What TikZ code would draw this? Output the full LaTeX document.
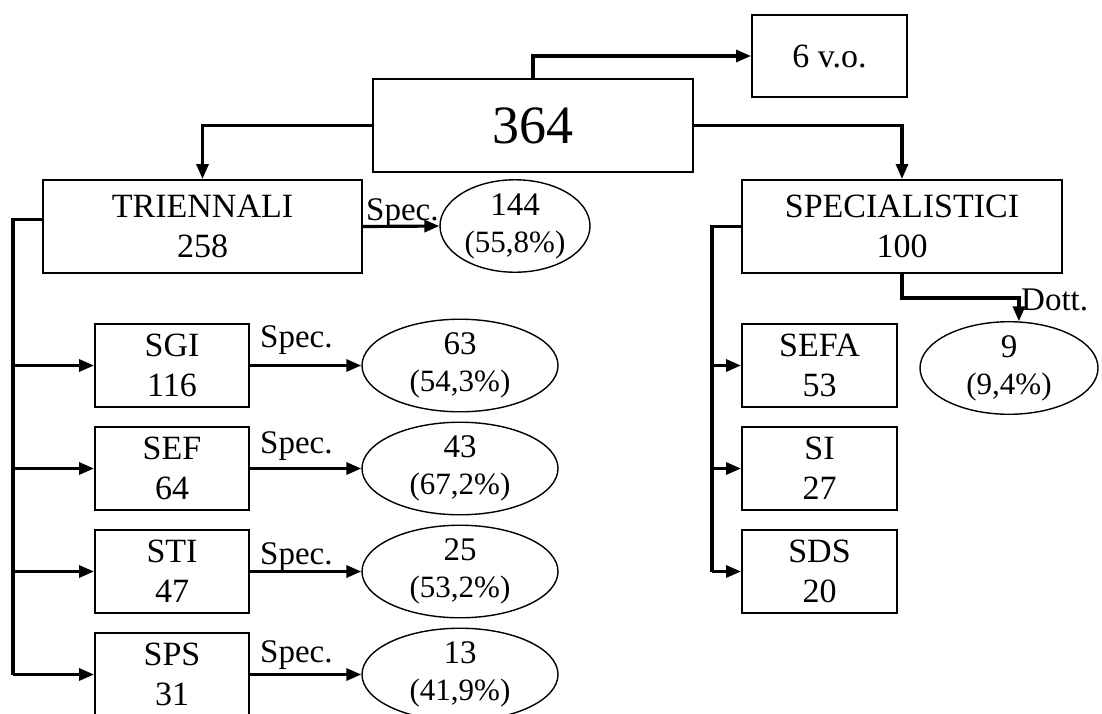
\documentclass[tikz,border=0pt]{standalone}
\usepackage{fontspec}
\setmainfont{Liberation Serif}
\usetikzlibrary{arrows.meta,shapes.geometric}
\begin{document}
\begin{tikzpicture}[x=1pt,y=-1pt,
  box/.style={draw,line width=2pt,inner sep=0pt,align=center,font=\fontsize{34}{40}\selectfont},
  bigbox/.style={box,minimum width=320pt,minimum height=93pt},
  smallbox/.style={box,minimum width=154pt,minimum height=83pt},
  oval/.style={draw,ellipse,line width=1.4pt,inner sep=0pt,align=center,minimum height=88pt,font=\fontsize{33}{37}\selectfont},
  trunk/.style={line width=3.2pt},
  conn/.style={line width=3.2pt,-{Triangle[length=15pt,width=12pt]}},
  lbl/.style={font=\fontsize{33}{33}\selectfont,inner sep=0pt,anchor=base west}]
\useasboundingbox (0,0) rectangle (1102,713);

% top
\node[box,minimum width=320pt,minimum height=93pt,font=\fontsize{54}{54}\selectfont] (v364) at (533,125.5) {364};
\node[box,minimum width=155pt,minimum height=82pt] (vo) at (829.5,56) {6 v.o.};

% level 2
\node[bigbox,minimum width=319pt] (tri) at (202.5,226.5) {TRIENNALI\\258};
\node[bigbox] (spe) at (902,226.5) {SPECIALISTICI\\100};
\node[oval,minimum width=150pt] (e144) at (515,226) {144\\\fontsize{31}{37}\selectfont(55,8\%)};

% left column
\node[smallbox] (sgi) at (172,365.5) {SGI\\116};
\node[smallbox] (sef) at (172,468.5) {SEF\\64};
\node[smallbox] (sti) at (172,571.5) {STI\\47};
\node[smallbox] (sps) at (172,674.5) {SPS\\31};
\node[oval,minimum width=196pt] (e63) at (460,365.5) {63\\\fontsize{31}{37}\selectfont(54,3\%)};
\node[oval,minimum width=196pt] (e43) at (460,468.5) {43\\\fontsize{31}{37}\selectfont(67,2\%)};
\node[oval,minimum width=196pt] (e25) at (460,571.5) {25\\\fontsize{31}{37}\selectfont(53,2\%)};
\node[oval,minimum width=196pt] (e13) at (460,674.5) {13\\\fontsize{31}{37}\selectfont(41,9\%)};

% right column
\node[smallbox,minimum width=155pt] (sefa) at (819.5,365.5) {SEFA\\53};
\node[smallbox,minimum width=155pt] (si) at (819.5,468.5) {SI\\27};
\node[smallbox,minimum width=155pt] (sds) at (819.5,571.5) {SDS\\20};
\node[oval,minimum width=178pt] (e9) at (1009,368) {9\\\fontsize{31}{37}\selectfont(9,4\%)};

% connectors top
\draw[conn] (v364.north) |- (vo.west);
\draw[conn] (v364.west) -| (tri.north);
\draw[conn] (v364.east) -| (spe.north);

% triennali
\draw[conn] (tri.east) -- (e144.west);
\node[lbl] (ltri) at (366,220) {Spec.};
\coordinate (lt) at (13,674.5);
\draw[trunk] ([yshift=7pt]tri.west) -| (lt);
\draw[conn] (sgi.west -| lt) -- (sgi.west);
\draw[conn] (sef.west -| lt) -- (sef.west);
\draw[conn] (sti.west -| lt) -- (sti.west);
\draw[conn] (lt) -- (sps.west);

\draw[conn] (sgi.east) -- (e63.west);
\draw[conn] (sef.east) -- (e43.west);
\draw[conn] (sti.east) -- (e25.west);
\draw[conn] (sps.east) -- (e13.west);
\node[lbl] (l1) at (260,347) {Spec.};
\node[lbl] (l2) at (260,453) {Spec.};
\node[lbl] (l3) at (260,564) {Spec.};
\node[lbl] (l4) at (260,662) {Spec.};

% specialistici
\coordinate (rt) at (712,571.5);
\draw[trunk] (spe.west) -| (rt);
\draw[conn] (sefa.west -| rt) -- (sefa.west);
\draw[conn] (si.west -| rt) -- (si.west);
\draw[conn] (rt) -- (sds.west);

\draw[conn] (spe.south) -- ++(0,24) -| (e9.78);
\node[lbl] (ldott) at (1021,310) {Dott.};
\end{tikzpicture}
\end{document}
